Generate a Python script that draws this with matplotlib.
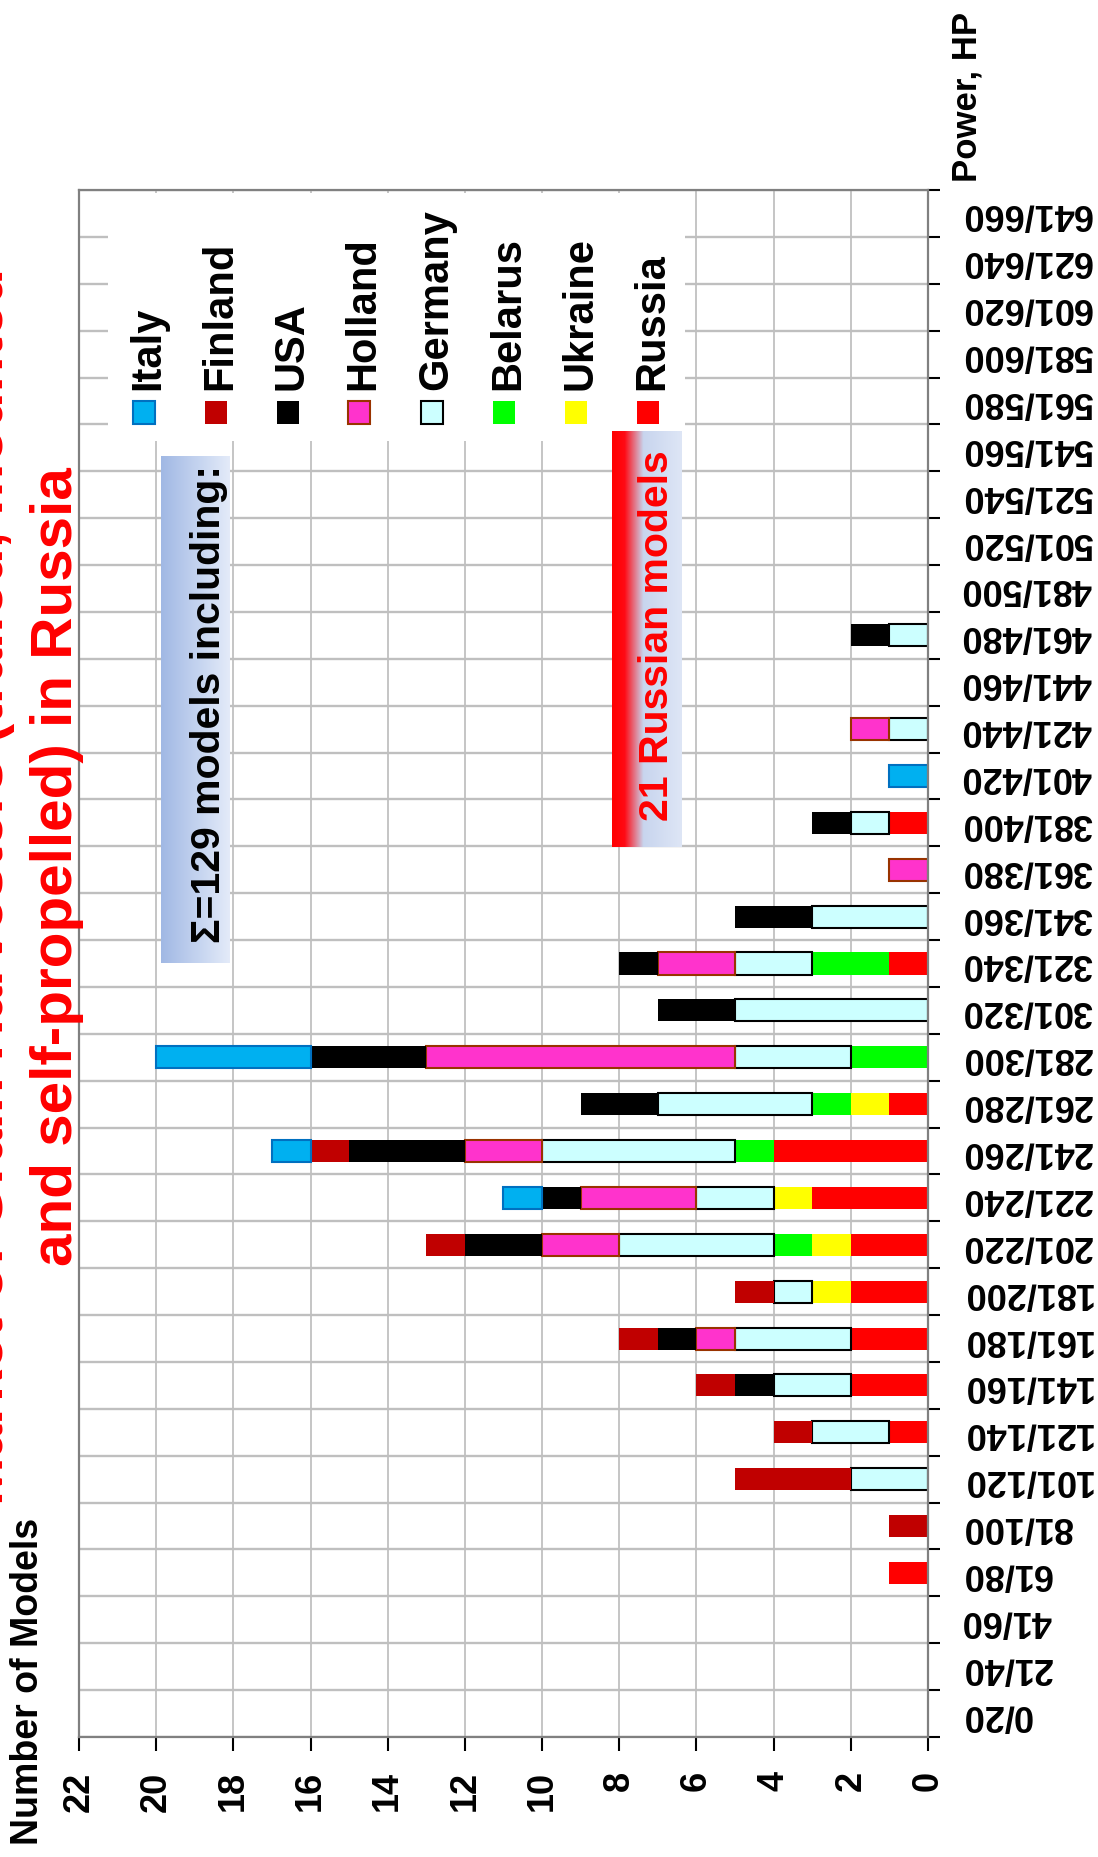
import numpy as np
import matplotlib
matplotlib.use("Agg")
import matplotlib.pyplot as plt
from matplotlib.patches import Rectangle

plt.rcParams['font.family'] = ['Liberation Sans', 'DejaVu Sans']

# ---------------- data ----------------
categories = ["0/20", "21/40", "41/60", "61/80", "81/100", "101/120", "121/140",
              "141/160", "161/180", "181/200", "201/220", "221/240", "241/260",
              "261/280", "281/300", "301/320", "321/340", "341/360", "361/380",
              "381/400", "401/420", "421/440", "441/460", "461/480", "481/500",
              "501/520", "521/540", "541/560", "561/580", "581/600", "601/620",
              "621/640", "641/660"]
#            0  1  2  3  4  5  6  7  8  9 10 11 12 13 14 15 16 17 18 19 20 21 22 23 24..32
russia  = [0, 0, 0, 1, 0, 0, 1, 2, 2, 2, 2, 3, 4, 1, 0, 0, 1, 0, 0, 1, 0, 0, 0, 0, 0, 0, 0, 0, 0, 0, 0, 0, 0]
ukraine = [0, 0, 0, 0, 0, 0, 0, 0, 0, 1, 1, 1, 0, 1, 0, 0, 0, 0, 0, 0, 0, 0, 0, 0, 0, 0, 0, 0, 0, 0, 0, 0, 0]
belarus = [0, 0, 0, 0, 0, 0, 0, 0, 0, 0, 1, 0, 1, 1, 2, 0, 2, 0, 0, 0, 0, 0, 0, 0, 0, 0, 0, 0, 0, 0, 0, 0, 0]
germany = [0, 0, 0, 0, 0, 2, 2, 2, 3, 1, 4, 2, 5, 4, 3, 5, 2, 3, 0, 1, 0, 1, 0, 1, 0, 0, 0, 0, 0, 0, 0, 0, 0]
holland = [0, 0, 0, 0, 0, 0, 0, 0, 1, 0, 2, 3, 2, 0, 8, 0, 2, 0, 1, 0, 0, 1, 0, 0, 0, 0, 0, 0, 0, 0, 0, 0, 0]
usa     = [0, 0, 0, 0, 0, 0, 0, 1, 1, 0, 2, 1, 3, 2, 3, 2, 1, 2, 0, 1, 0, 0, 0, 1, 0, 0, 0, 0, 0, 0, 0, 0, 0]
finland = [0, 0, 0, 0, 1, 3, 1, 1, 1, 1, 1, 0, 1, 0, 0, 0, 0, 0, 0, 0, 0, 0, 0, 0, 0, 0, 0, 0, 0, 0, 0, 0, 0]
italy   = [0, 0, 0, 0, 0, 0, 0, 0, 0, 0, 0, 1, 1, 0, 4, 0, 0, 0, 0, 0, 1, 0, 0, 0, 0, 0, 0, 0, 0, 0, 0, 0, 0]

value_ticks = list(range(0, 23, 2))

# stacking order (from zero outward)
series = [
    ("Russia",  russia,  "#FF0000", None),
    ("Ukraine", ukraine, "#FFFF00", None),
    ("Belarus", belarus, "#00FF00", None),
    ("Germany", germany, "#CCFFFF", "#000000"),
    ("Holland", holland, "#FF33CC", "#993300"),
    ("USA",     usa,     "#000000", None),
    ("Finland", finland, "#C00000", None),
    ("Italy",   italy,   "#00B0F0", "#0070C0"),
]

# ---------------- layout helpers ----------------
W, H = 1098, 1858
fig = plt.figure(figsize=(W / 100, H / 100), dpi=100)


def fx(px):
    return px / W


def fy(py):
    return 1 - py / H


AX_L, AX_R, AX_T, AX_B = 79, 928, 191, 1738
ax = fig.add_axes([fx(AX_L), fy(AX_B), (AX_R - AX_L) / W, (AX_B - AX_T) / H])

# ---------------- bars ----------------
ypos = np.arange(len(categories))
left = np.zeros(len(categories))
for name, vals, fc, ec in series:
    v = np.array(vals, dtype=float)
    m = v > 0
    if m.any():
        ax.barh(ypos[m], v[m], left=left[m], height=0.47, color=fc,
                edgecolor=ec if ec else fc, linewidth=1.5 if ec else 0, zorder=2)
    left += v

ax.set_xlim(22, 0)
ax.set_ylim(-0.5, len(categories) - 0.5)
ax.set_axisbelow(True)

# value axis
ax.set_xticks(value_ticks)
ax.set_xticklabels([str(t) for t in value_ticks])
ax.tick_params(axis='x', which='major', length=10, width=1.5, pad=14,
               labelsize=26, labelrotation=90, color='black', direction='out')
ax.xaxis.grid(True, color='#C0C0C0', linewidth=1.3)

# category axis
ax.yaxis.tick_right()
ax.set_yticks(ypos)
ax.set_yticklabels(categories)
ax.set_yticks(np.arange(-0.5, len(categories), 1.0), minor=True)
ax.tick_params(axis='y', which='major', length=0, pad=24, labelsize=26,
               labelrotation=180)
ax.tick_params(axis='y', which='minor', length=8.5, width=1.5, color='black',
               direction='out', right=True, left=False)
ax.yaxis.grid(True, which='minor', color='#BFBFBF', linewidth=1.7)
ax.yaxis.grid(False, which='major')

for lbl in ax.get_xticklabels():
    lbl.set_fontweight('bold')
for lbl in ax.get_yticklabels():
    lbl.set_fontweight('bold')
    lbl.set_va('center')

for s in ax.spines.values():
    s.set_color('#808080')
    s.set_linewidth(1.6)

# ---------------- legend (rotated) ----------------
fig.add_artist(Rectangle((fx(108), fy(442)), (685 - 108) / W, (442 - 194) / H,
                         transform=fig.transFigure, facecolor='white',
                         edgecolor='none', zorder=1))
legend_order = ["Italy", "Finland", "USA", "Holland", "Germany", "Belarus", "Ukraine", "Russia"]
style = {n: (fc, ec) for n, _, fc, ec in series}
leg_x = [144, 216, 288, 359, 432, 504, 576, 648]
for name, cx in zip(legend_order, leg_x):
    fc, ec = style[name]
    fig.add_artist(Rectangle((fx(cx - 11), fy(425)), 22 / W, 23 / H,
                             transform=fig.transFigure, facecolor=fc,
                             edgecolor=ec if ec else fc,
                             linewidth=1.5 if ec else 0, zorder=2))
    fig.text(fx(cx + 15), fy(390), name, rotation=90, rotation_mode='anchor',
             ha='left', va='baseline', fontsize=30, fontweight='bold', zorder=3)

# ---------------- annotation boxes ----------------
def grad_box(x0, x1, y0, y1, stops):
    a = fig.add_axes([fx(x0), fy(y1), (x1 - x0) / W, (y1 - y0) / H])
    a.set_zorder(4)
    t = np.linspace(0, 1, 300)
    pos = [s[0] for s in stops]
    cols = np.array([s[1] for s in stops], dtype=float) / 255.0
    img = np.stack([np.interp(t, pos, cols[:, k]) for k in range(3)], axis=-1)
    a.imshow(img[None, :, :], aspect='auto', extent=(0, 1, 0, 1))
    a.set_axis_off()
    return a

grad_box(161, 230, 457, 964, [(0.0, (160, 184, 228)), (1.0, (228, 235, 249))])
grad_box(612, 682, 432, 848, [(0.0, (255, 0, 0)), (0.18, (255, 10, 20)),
                              (0.45, (200, 213, 238)), (1.0, (222, 230, 246))])

fig.text(fx(220), fy(704), "Σ=129 models including:", rotation=90,
         rotation_mode='anchor', ha='center', va='baseline', fontsize=29.5,
         fontweight='bold', color='black', zorder=10)
fig.text(fx(668), fy(636), "21 Russian models", rotation=90,
         rotation_mode='anchor', ha='center', va='baseline', fontsize=29.5,
         fontweight='bold', color='#FF0000', zorder=10)

# ---------------- titles ----------------
fig.text(fx(3.5), fy(886), "Market of Grain Harvesters (trailed, mounted", rotation=90,
         rotation_mode='anchor', ha='center', va='baseline', fontsize=42,
         fontweight='bold', color='#FF0000', zorder=10)
fig.text(fx(72), fy(867), "and self-propelled) in Russia", rotation=90,
         rotation_mode='anchor', ha='center', va='baseline', fontsize=42,
         fontweight='bold', color='#FF0000', zorder=10)

fig.text(fx(977), fy(182), "Power, HP", rotation=90, rotation_mode='anchor',
         ha='left', va='baseline', fontsize=25, fontweight='bold', zorder=10)
fig.text(fx(38), fy(1845), "Number of Models", rotation=90, rotation_mode='anchor',
         ha='left', va='baseline', fontsize=27, fontweight='bold', zorder=10)

fig.savefig("out.png", dpi=100)
